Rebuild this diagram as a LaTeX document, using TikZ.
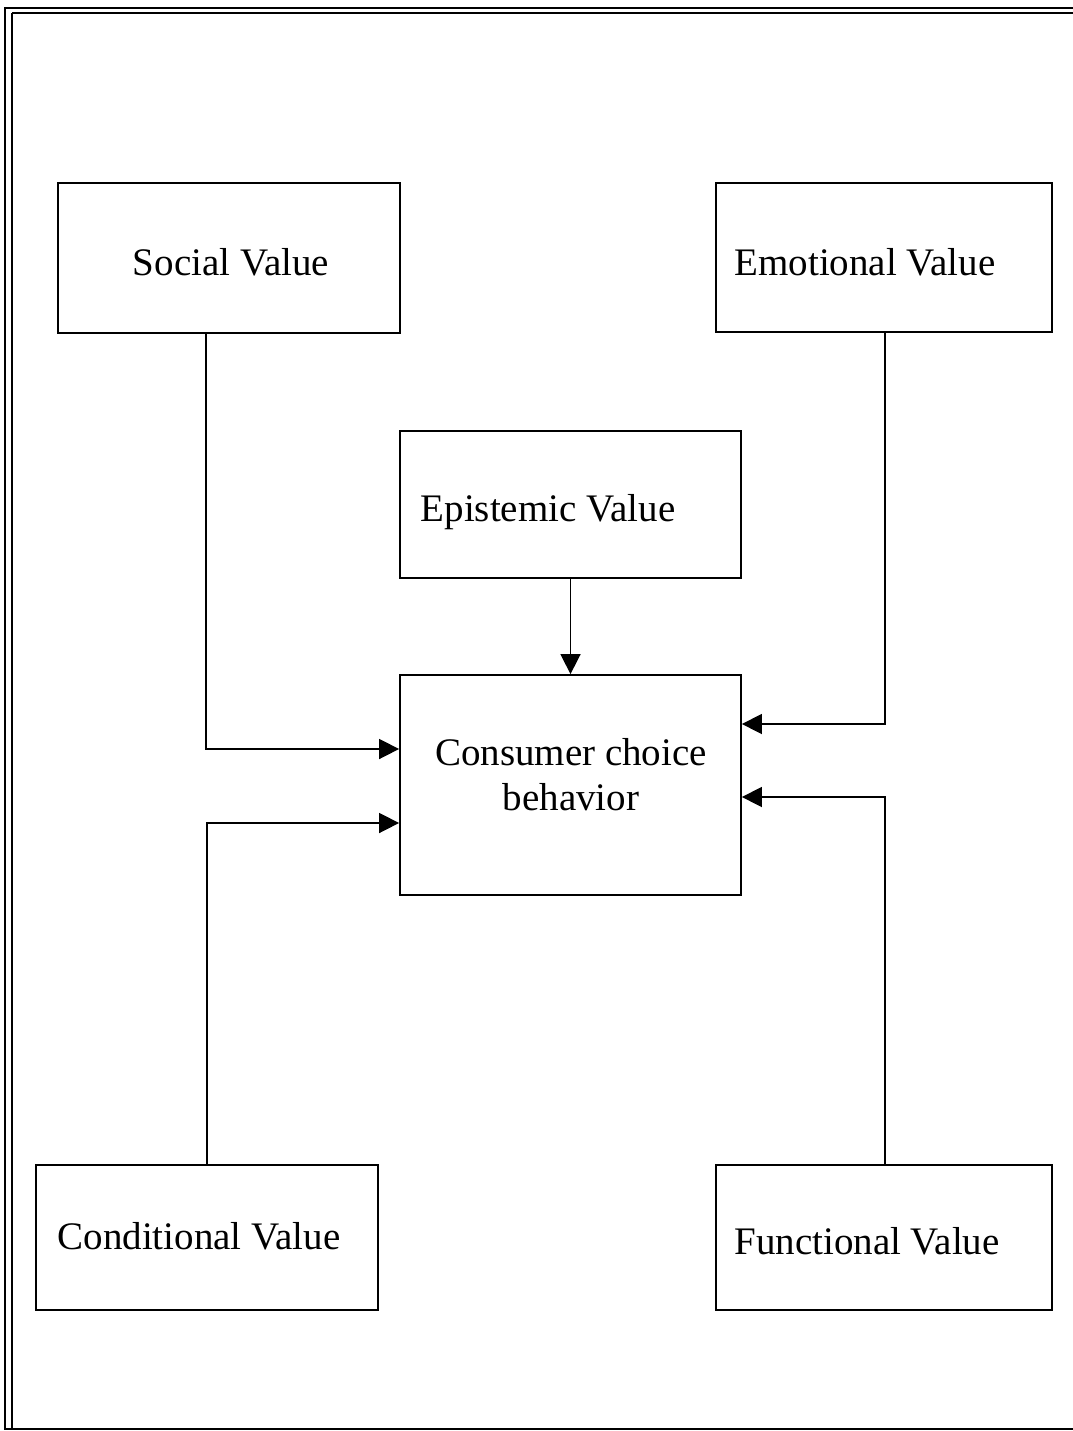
\documentclass[tikz,border=0pt]{standalone}
\usepackage{fontspec}
\setmainfont{Liberation Serif}
\usetikzlibrary{arrows.meta}
\begin{document}
\begin{tikzpicture}[x=1pt,y=-1pt,
  box/.style={draw,line width=1.8pt,inner sep=0pt},
  lbl/.style={font=\fontsize{39}{45}\selectfont,inner sep=0pt,align=center},
  conn/.style={line width=1.6pt,-{Triangle[length=20pt,width=20pt]}}]
\useasboundingbox (0,0) rectangle (1072,1431);
% frame
\draw[line width=2.2pt] (5,8) rectangle (1095,1429);
\draw[line width=1.6pt] (12,13) -- (1090,13) (12,13) -- (12,1428);
% boxes
\node[box,minimum width=342pt,minimum height=150pt] (social) at (229,258) {};
\node[box,minimum width=336pt,minimum height=149pt] (emo) at (884,257.5) {};
\node[box,minimum width=341pt,minimum height=147pt] (epi) at (570.5,504.5) {};
\node[box,minimum width=341pt,minimum height=220pt] (cons) at (570.5,785) {};
\node[box,minimum width=342pt,minimum height=145pt] (cond) at (207,1237.5) {};
\node[box,minimum width=336pt,minimum height=145pt] (func) at (884,1237.5) {};
% texts
\node[lbl] (tsocial) at (231,262) {Social Value};
\node[lbl] (temo) at (865,262) {Emotional Value};
\node[lbl] (tepi) at (548,512) {Epistemic Value};
\node[lbl] (tcons) at (571,775) {Consumer choice\\behavior};
\node[lbl] (tcond) at (199,1236) {Conditional Value};
\node[lbl] (tfunc) at (867,1241) {Functional Value};
% connectors
\draw[conn] (social.south -| 206,0) |- (cons.west |- 0,749);
\draw[conn] (emo.south -| 885,0) |- (cons.east |- 0,724);
\draw[conn] (epi.south) -- (cons.north);
\draw[conn] (cond.north -| 207,0) |- (cons.west |- 0,823);
\draw[conn] (func.north -| 885,0) |- (cons.east |- 0,797);
\end{tikzpicture}
\end{document}
